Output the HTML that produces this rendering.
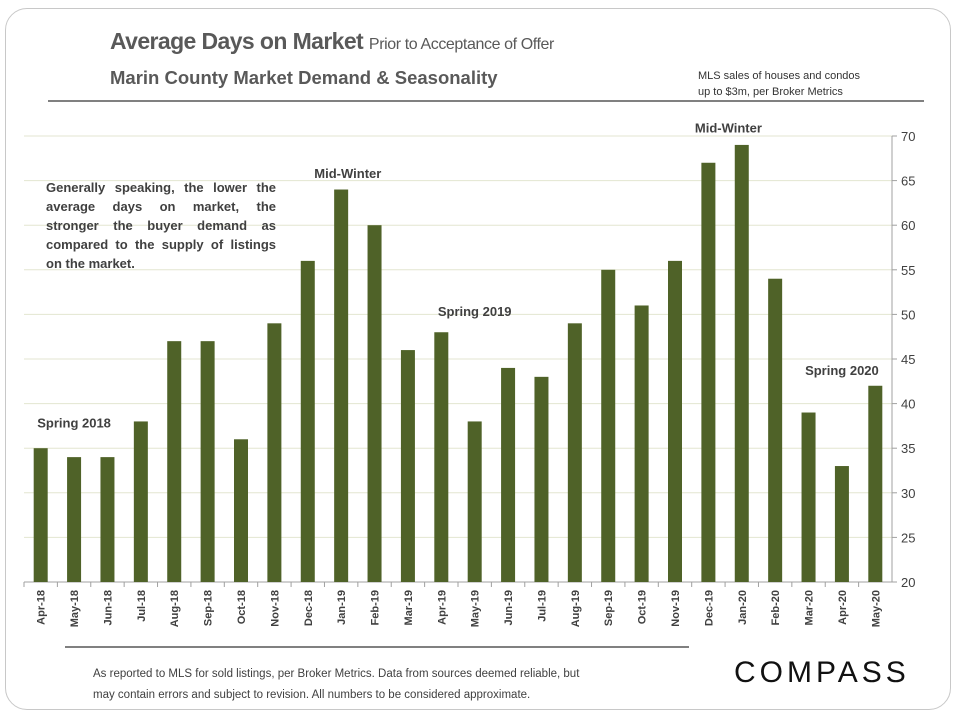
<!DOCTYPE html>
<html><head><meta charset="utf-8"><style>
body{margin:0;width:960px;height:720px;background:#fff;overflow:hidden;font-family:"Liberation Sans",sans-serif;}
.frame{position:absolute;left:5px;top:8px;width:946px;height:702px;border:1px solid #c8c8c8;border-radius:22px;box-sizing:border-box;}
.t{position:absolute;color:#595959;white-space:nowrap;font-family:"Liberation Sans",sans-serif;}
</style></head><body>
<div class="frame"></div>
<div class="t" style="left:110px;top:28px;font-size:23px;font-weight:bold;letter-spacing:-0.6px">Average Days on Market <span style="font-size:16px;font-weight:normal;letter-spacing:-0.4px">Prior to Acceptance of Offer</span></div>
<div class="t" style="left:110px;top:67px;font-size:18.5px;font-weight:bold">Marin County Market Demand &amp; Seasonality</div>
<div class="t" style="left:698px;top:68px;font-size:11px;line-height:16px;color:#333">MLS sales of houses and condos<br>up to $3m, per Broker Metrics</div>
<div style="position:absolute;left:48px;top:100px;width:876px;height:2px;background:#808080"></div>
<svg id="chart" width="960" height="720" style="position:absolute;left:0;top:0"></svg>
<div class="t" style="left:46px;top:178px;font-size:13px;line-height:19px;font-weight:bold;color:#404040;width:230px;white-space:normal;text-align:justify">Generally speaking, the lower the average days on market, the stronger the buyer demand as compared to the supply of listings on the market.</div>
<div style="position:absolute;left:65px;top:646px;width:624px;height:2px;background:#808080"></div>
<div class="t" style="left:93px;top:664px;font-size:11.5px;line-height:21px;color:#404040">As reported to MLS for sold listings, per Broker Metrics. Data from sources deemed reliable, but<br>may contain errors and subject to revision. All numbers to be considered approximate.</div>
<div class="t" style="left:734px;top:656px;font-size:30px;color:#111;letter-spacing:4px">COMPASS</div>
<script>
const categories=["Apr-18","May-18","Jun-18","Jul-18","Aug-18","Sep-18","Oct-18","Nov-18","Dec-18","Jan-19","Feb-19","Mar-19","Apr-19","May-19","Jun-19","Jul-19","Aug-19","Sep-19","Oct-19","Nov-19","Dec-19","Jan-20","Feb-20","Mar-20","Apr-20","May-20"];
const values=[35,34,34,38,47,47,36,49,56,64,60,46,48,38,44,43,49,55,51,56,67,69,54,39,33,42];
const yTicks=[20,25,30,35,40,45,50,55,60,65,70];
const calloutText=["Spring 2018","Mid-Winter","Spring 2019","Mid-Winter","Spring 2020"];
const calloutCat=[1,9.2,13,20.6,24];
const calloutVal=[37.3,65.3,49.8,70.4,43.2];
const svg=document.getElementById('chart');const NS='http://www.w3.org/2000/svg';
const x0=24,x1=892,yTop=136,yBot=582,ymin=20,ymax=70;
const step=(x1-x0)/categories.length;
const xc=i=>x0+step*(i+0.5);
const y=v=>yBot-(v-ymin)/(ymax-ymin)*(yBot-yTop);
function mk(t,a,txt){const e=document.createElementNS(NS,t);for(const k in a)e.setAttribute(k,a[k]);if(txt!==undefined)e.textContent=txt;svg.appendChild(e);return e;}
yTicks.forEach(v=>{
 const g=mk('line',{x1:x0,x2:x1,y1:y(v),y2:y(v),stroke:v===ymin?'#a0a0a0':'#e3e6d0','stroke-width':1});
 
 
 const tk=mk('line',{x1:x1,x2:x1+5,y1:y(v),y2:y(v),stroke:'#a0a0a0'});
 
 
 const l=mk('text',{x:x1+9,y:y(v)+5,'font-size':13,fill:'#404040'},v);
 
 
});
const ax=mk('line',{x1:x1,x2:x1,y1:yTop,y2:yBot,stroke:'#a0a0a0'});


categories.forEach((c,i)=>{
 const b=mk('rect',{x:xc(i)-7,y:y(values[i]),width:14,height:yBot-y(values[i]),fill:'#4f6228'});
 
 
 const t=mk('line',{x1:x0+step*i,x2:x0+step*i,y1:yBot,y2:yBot+5,stroke:'#a0a0a0'});
 
 
 const l=mk('text',{x:0,y:0,'font-size':11,'font-weight':'bold',fill:'#404040','text-anchor':'end',transform:`translate(${xc(i)+4},${yBot+8}) rotate(-90)`},c);
 
 
});
calloutText.forEach((txt,k)=>{
 const l=mk('text',{x:xc(calloutCat[k]),y:y(calloutVal[k]),'font-size':13,'font-weight':'bold',fill:'#404040','text-anchor':'middle'},txt);
 
 
});
</script>
</body></html>
